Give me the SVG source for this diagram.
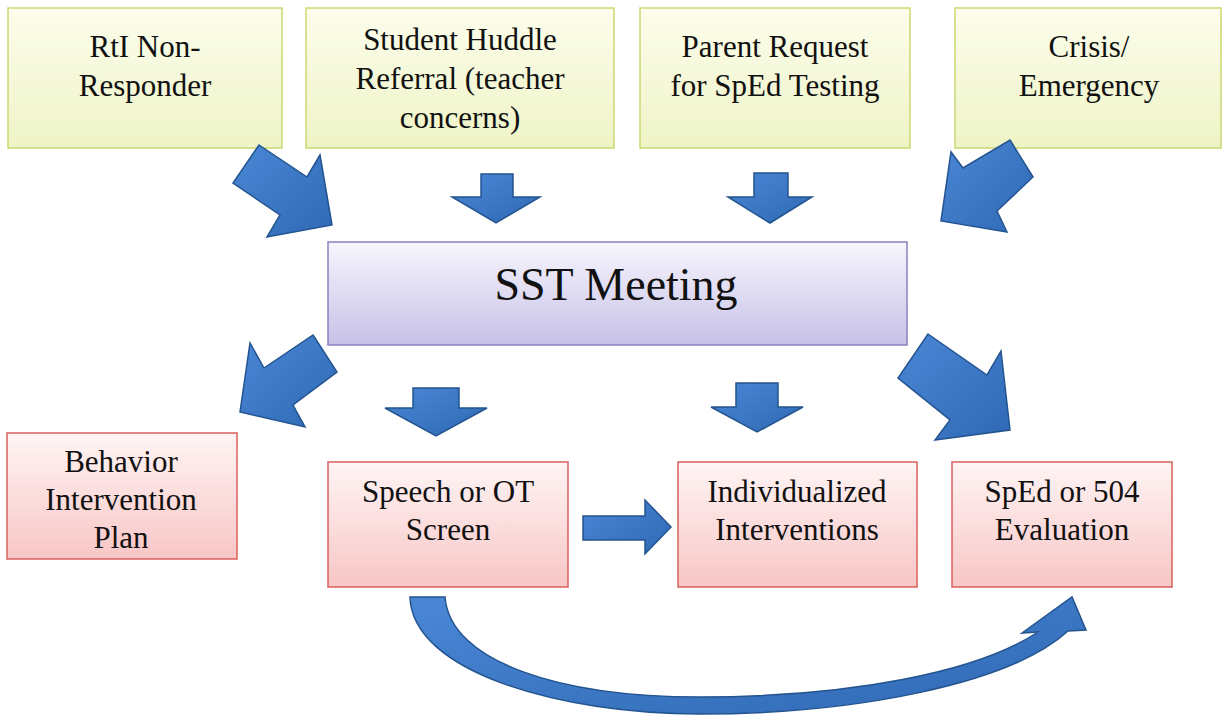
<svg xmlns="http://www.w3.org/2000/svg" width="1225" height="715" viewBox="0 0 1225 715">
<defs>
<linearGradient id="gTop" x1="0" y1="0" x2="0" y2="1">
<stop offset="0" stop-color="#fcfdec"/><stop offset="1" stop-color="#eef4c6"/>
</linearGradient>
<linearGradient id="gSst" x1="0" y1="0" x2="0" y2="1">
<stop offset="0" stop-color="#f7f5fd"/><stop offset="1" stop-color="#c7c1e7"/>
</linearGradient>
<linearGradient id="gPink" x1="0" y1="0" x2="0" y2="1">
<stop offset="0" stop-color="#fff4f4"/><stop offset="1" stop-color="#f8c6c6"/>
</linearGradient>
<linearGradient id="gArrow" x1="0" y1="0" x2="1" y2="1">
<stop offset="0" stop-color="#4a87d4"/><stop offset="1" stop-color="#2f69b6"/>
</linearGradient>
</defs>
<style>
.top{fill:url(#gTop);stroke:#cbd771;stroke-width:1.5}
.sst{fill:url(#gSst);stroke:#8683bf;stroke-width:1.5}
.pink{fill:url(#gPink);stroke:#d9605c;stroke-width:1.5}
.t{font-family:"Liberation Serif","Times New Roman",serif;font-size:31px;fill:#111111;text-anchor:middle}
.big{font-size:46px}
.arr{fill:url(#gArrow);stroke:#24548f;stroke-width:1.5;stroke-linejoin:miter}
</style>
<rect width="1225" height="715" fill="#ffffff"/>

<g id="node-rti">
<rect class="top" x="8" y="8" width="274" height="140"/>
<text class="t" x="145" y="57">RtI Non-</text>
<text class="t" x="145" y="96">Responder</text>
</g>
<g id="node-huddle">
<rect class="top" x="306" y="8" width="308" height="140"/>
<text class="t" x="460" y="50">Student Huddle</text>
<text class="t" x="460" y="89">Referral (teacher</text>
<text class="t" x="460" y="128">concerns)</text>
</g>
<g id="node-parent">
<rect class="top" x="640" y="8" width="270" height="140"/>
<text class="t" x="775" y="57">Parent Request</text>
<text class="t" x="775" y="96">for SpEd Testing</text>
</g>
<g id="node-crisis">
<rect class="top" x="955" y="8" width="266" height="140"/>
<text class="t" x="1089" y="57">Crisis/</text>
<text class="t" x="1089" y="96">Emergency</text>
</g>
<g id="node-sst">
<rect class="sst" x="328" y="242" width="579" height="103"/>
<text class="t big" x="616" y="300">SST Meeting</text>
</g>
<g id="node-bip">
<rect class="pink" x="7" y="433" width="230" height="126"/>
<text class="t" x="121" y="472">Behavior</text>
<text class="t" x="121" y="510">Intervention</text>
<text class="t" x="121" y="548">Plan</text>
</g>
<g id="node-speech">
<rect class="pink" x="328" y="462" width="240" height="125"/>
<text class="t" x="448" y="502">Speech or OT</text>
<text class="t" x="448" y="540">Screen</text>
</g>
<g id="node-indiv">
<rect class="pink" x="678" y="462" width="239" height="125"/>
<text class="t" x="797" y="502">Individualized</text>
<text class="t" x="797" y="540">Interventions</text>
</g>
<g id="node-sped">
<rect class="pink" x="952" y="462" width="220" height="125"/>
<text class="t" x="1062" y="502">SpEd or 504</text>
<text class="t" x="1062" y="540">Evaluation</text>
</g>

<g id="connectors">
<polygon class="arr" points="259,145 307,177 320,155 332,225 267,237 280,215 233,183"/>
<polygon class="arr" points="481,174 513,174 513,197 540,197 496,223 452,197 481,197"/>
<polygon class="arr" points="754,173 788,173 788,197 812,197 770,223 728,197 754,197"/>
<polygon class="arr" points="1010,140 1033,177 997,211 1007,232 941,221 951,152 963,168"/>
<polygon class="arr" points="313,335 337,372 293,405 305,427 240,412 250,343 264,368"/>
<polygon class="arr" points="413,388 459,388 459,408 487,408 436,436 385,408 413,408"/>
<polygon class="arr" points="736,383 778,383 778,407 803,407 757,432 711,407 736,407"/>
<polygon class="arr" points="928,334 987,375 1001,351 1010,430 935,440 950,420 898,378"/>
<polygon class="arr" points="583,516 645,516 645,500 671,527 645,554 645,540 583,540"/>
<path class="arr" d="M410,597 C412,672 560,714 700,714 C855,714 1010,684 1068,631 L1086,630 L1072,597 L1022,633 L1038,632 C978,672 850,697 700,697 C560,697 450,662 445,597 Z"/>
</g>
</svg>
